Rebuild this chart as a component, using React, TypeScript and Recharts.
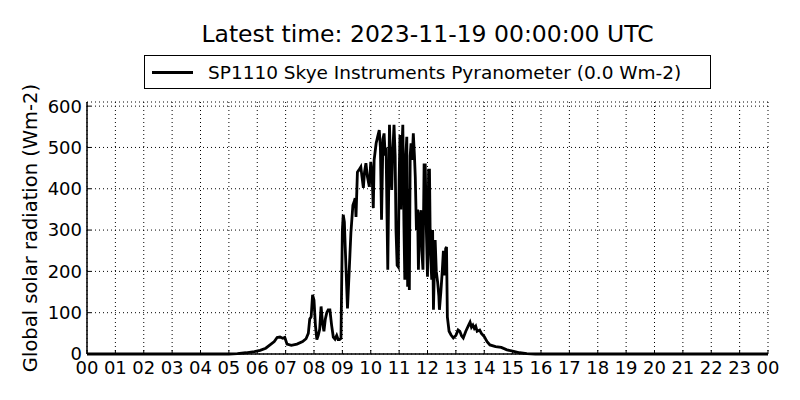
import { LineChart, Line, XAxis, YAxis, CartesianGrid } from "recharts";

// hour of day (UTC) and radiation reading (Wm-2)
const hours = [
  0, 5.0, 5.3, 5.6, 5.9, 6.1, 6.3, 6.45, 6.6, 6.7, 6.8, 6.9, 6.97, 7.05, 7.2, 7.4, 7.6, 7.72,
  7.8, 7.85, 7.9, 7.95, 8.0, 8.05, 8.1, 8.15, 8.2, 8.25, 8.3, 8.35, 8.4, 8.45, 8.5, 8.56, 8.62,
  8.68, 8.74, 8.8, 8.85, 8.9, 8.95, 9.0, 9.03, 9.07, 9.1, 9.18, 9.24, 9.3, 9.37, 9.42, 9.45,
  9.48, 9.53, 9.58, 9.65, 9.69, 9.74, 9.78, 9.83, 9.88, 9.95, 10.0, 10.05, 10.09, 10.12, 10.19,
  10.24, 10.3, 10.34, 10.38, 10.43, 10.47, 10.51, 10.54, 10.6, 10.66, 10.7, 10.74, 10.77, 10.82,
  10.86, 10.89, 10.93, 10.97, 11.0, 11.03, 11.06, 11.09, 11.13, 11.17, 11.2, 11.23, 11.27, 11.3,
  11.33, 11.36, 11.39, 11.42, 11.46, 11.5, 11.54, 11.57, 11.61, 11.65, 11.68, 11.72, 11.77, 11.8,
  11.84, 11.88, 11.92, 11.96, 12.0, 12.04, 12.07, 12.1, 12.15, 12.18, 12.21, 12.24, 12.27, 12.31,
  12.36, 12.4, 12.42, 12.47, 12.52, 12.56, 12.6, 12.64, 12.67, 12.7, 12.76, 12.83, 12.91, 13.0,
  13.08, 13.14, 13.2, 13.26, 13.35, 13.45, 13.5, 13.55, 13.6, 13.65, 13.7, 13.75, 13.84, 13.9,
  14.0, 14.1, 14.2, 14.4, 14.6, 14.8, 15.0, 15.25, 15.5, 15.8, 24,
];

const radiation = [
  0, 0, 1, 3, 6, 9, 14, 22, 30, 40, 41, 38, 40, 24, 21, 24, 30, 37,
  50, 85, 90, 143, 130, 70, 35, 45, 60, 115, 75, 55, 85, 100, 107, 107, 70,
  41, 36, 45, 35, 35, 38, 300, 337, 320, 260, 110, 200, 293, 360, 370, 377,
  332, 440, 445, 453, 430, 402, 440, 462, 430, 405, 465, 430, 353, 470, 510,
  525, 542, 500, 325, 520, 534, 480, 500, 204, 555, 460, 397, 480, 555,
  480, 300, 215, 211, 420, 530, 350, 480, 555, 310, 180, 470, 526, 163,
  400, 155, 480, 510, 470, 534, 480, 428, 300, 350, 204, 330, 348, 250,
  204, 458, 458, 300, 187, 445, 445, 250, 180, 300, 107, 200, 276, 200,
  172, 140, 107, 150, 200, 250, 190, 255, 259, 90, 55, 46, 39, 45,
  58, 55, 44, 39, 55, 70, 77, 65, 70, 62, 67, 55, 58, 50,
  42, 30, 22, 18, 16, 10, 7, 3, 1, 0, 0,
];

const hourTicks = Array.from({ length: 25 }, (_, i) => i);
const radiationTicks = [0, 100, 200, 300, 400, 500, 600];

const data = hours.map((h, i) => ({ hour: h, value: radiation[i] }));

const font = "'DejaVu Sans', sans-serif";

function YLabel({ viewBox }: { viewBox?: { x: number; y: number; width: number; height: number } }) {
  if (!viewBox) return null;
  const cx = 30;
  const cy = viewBox.y + viewBox.height / 2;
  return (
    <text
      x={cx}
      y={cy}
      transform={`rotate(-90 ${cx} ${cy})`}
      textAnchor="middle"
      dominantBaseline="central"
      fontSize={19.5}
      fontFamily={font}
      fill="#000"
    >
      Global solar radiation (Wm-2)
    </text>
  );
}

export default function App() {
  return (
    <div
      style={{
        position: "absolute",
        left: 0,
        top: 0,
        width: 800,
        height: 400,
        background: "#fff",
      }}
    >
      {/* Title */}
      <div
        style={{
          position: "absolute",
          left: 0,
          width: 855,
          top: 19,
          textAlign: "center",
          fontFamily: font,
          fontSize: 23.5,
          lineHeight: "30px",
          color: "#000",
        }}
      >
        Latest time: 2023-11-19 00:00:00 UTC
      </div>

      {/* Legend */}
      <div
        style={{
          position: "absolute",
          left: 144,
          top: 55,
          width: 565,
          height: 32,
          border: "1px solid #000",
          display: "flex",
          alignItems: "center",
          fontFamily: font,
          fontSize: 18.5,
          color: "#000",
          whiteSpace: "nowrap",
        }}
      >
        <span
          style={{
            display: "inline-block",
            marginLeft: 7,
            width: 41,
            height: 3,
            background: "#000",
          }}
        />
        <span style={{ marginLeft: 15 }}>SP1110 Skye Instruments Pyranometer (0.0 Wm-2)</span>
      </div>

      <LineChart
        width={800}
        height={400}
        data={data}
        margin={{ top: 102, right: 32, bottom: 16, left: 27 }}
        style={{ position: "absolute", left: 0, top: 0 }}
      >
        <CartesianGrid stroke="#000" strokeDasharray="1 3" strokeWidth={1} />
        <XAxis
          dataKey="hour"
          type="number"
          domain={[0, 24]}
          ticks={hourTicks}
          interval={0}
          height={30}
          tickFormatter={(h: number) => String(h % 24).padStart(2, "0")}
          tick={{ fontSize: 18, fill: "#000", fontFamily: font }}
          tickSize={-4}
          tickMargin={11}
          tickLine={{ stroke: "#000" }}
          axisLine={{ stroke: "#000", strokeWidth: 1.5 }}
        />
        <XAxis
          xAxisId="top"
          dataKey="hour"
          type="number"
          orientation="top"
          domain={[0, 24]}
          ticks={hourTicks}
          interval={0}
          height={0}
          tickFormatter={() => ""}
          tickSize={-4}
          tickLine={{ stroke: "#000" }}
          axisLine={{ stroke: "#000", strokeWidth: 1.5 }}
        />
        <YAxis
          type="number"
          domain={[0, 610]}
          ticks={radiationTicks}
          interval={0}
          width={60}
          tick={{ fontSize: 18, fill: "#000", fontFamily: font }}
          tickSize={-4}
          tickMargin={9}
          tickLine={{ stroke: "#000" }}
          axisLine={{ stroke: "#000", strokeWidth: 1.5 }}
          label={<YLabel />}
        />
        <YAxis
          yAxisId="right"
          type="number"
          orientation="right"
          domain={[0, 610]}
          ticks={radiationTicks}
          interval={0}
          width={0}
          tickFormatter={() => ""}
          tickSize={-4}
          tickLine={{ stroke: "#000" }}
          axisLine={{ stroke: "#000", strokeWidth: 1.5 }}
        />
        <Line
          type="linear"
          dataKey="value"
          stroke="#000"
          strokeWidth={2.8}
          dot={false}
          isAnimationActive={false}
        />
      </LineChart>
    </div>
  );
}
